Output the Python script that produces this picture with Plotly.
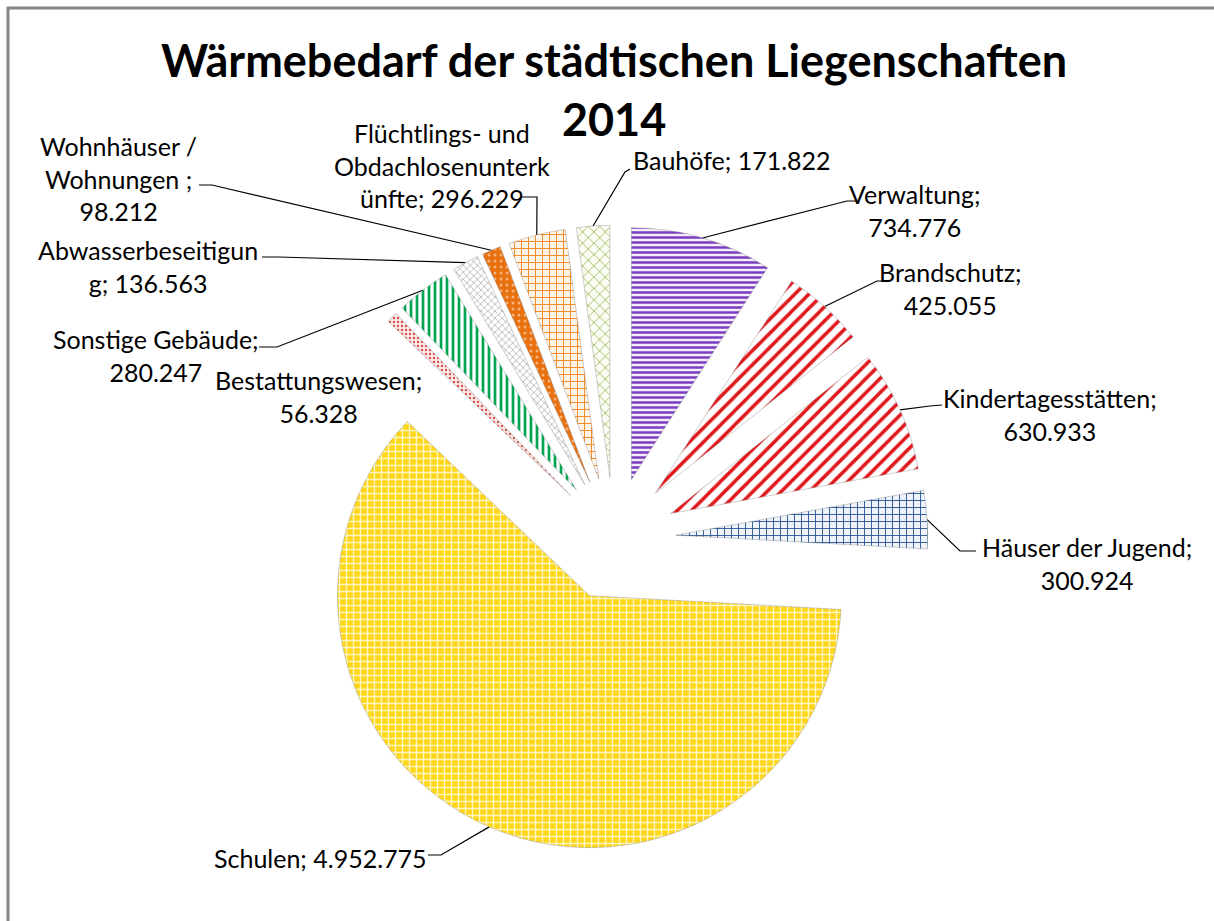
import math
import plotly.graph_objects as go

# ---------------- data ----------------
categories = [
    "Verwaltung", "Brandschutz", "Kindertagesstätten", "Häuser der Jugend", "Schulen",
    "Bestattungswesen", "Sonstige Gebäude", "Abwasserbeseitigung", "Wohnhäuser / Wohnungen ",
    "Flüchtlings- und Obdachlosenunterkünfte", "Bauhöfe",
]
values = [734776, 425055, 630933, 300924, 4952775, 56328, 280247, 136563, 98212, 296229, 171822]
# label text as wrapped in the original ({v} = formatted value)
label_templates = [
    "Verwaltung;<br>{v}",
    "Brandschutz;<br>{v}",
    "Kindertagesstätten;<br>{v}",
    "Häuser der Jugend;<br>{v}",
    "Schulen; {v}",
    "Bestattungswesen;<br>{v}",
    "Sonstige Gebäude;<br>{v}",
    "Abwasserbeseitigun<br>g; {v}",
    "Wohnhäuser /<br>Wohnungen ;<br>{v}",
    "Flüchtlings- und<br>Obdachlosenunterk<br>ünfte; {v}",
    "Bauhöfe; {v}",
]
title_text = "Wärmebedarf der städtischen Liegenschaften<br>2014"

# ---------------- style ----------------
W, H = 1214, 921
FONT = "Lato, Carlito, Calibri, sans-serif"
CX, CY = 614, 539        # pie centre (px)
R = 252                  # pie radius (px)
PULL = 0.245             # explode fraction of radius

patterns = [
    dict(shape="-", fgcolor="#7A3DBE", bgcolor="#F4EDFB", size=5, solidity=0.5),
    dict(shape="/", fgcolor="#E0191E", bgcolor="#FFFFFF", size=10, solidity=0.35),
    dict(shape="/", fgcolor="#E0191E", bgcolor="#FFFFFF", size=10, solidity=0.35),
    dict(shape="+", fgcolor="#2E5A94", bgcolor="#EEF3FA", size=7, solidity=0.25),
    dict(shape="+", fgcolor="#FFF7C2", bgcolor="#FFD619", size=7, solidity=0.35),
    dict(shape=".", fgcolor="#D9534F", bgcolor="#FCEDED", size=4, solidity=0.3),
    dict(shape="|", fgcolor="#00A551", bgcolor="#FFFFFF", size=6, solidity=0.45),
    dict(shape="x", fgcolor="#B5B5B5", bgcolor="#FFFFFF", size=5, solidity=0.3),
    dict(shape=".", fgcolor="#F9B27A", bgcolor="#E8700E", size=6, solidity=0.2),
    dict(shape="+", fgcolor="#F0861E", bgcolor="#FFF4E8", size=7, solidity=0.25),
    dict(shape="x", fgcolor="#9BBB59", bgcolor="#FBFDF4", size=8, solidity=0.2),
]

# text block centres (px) and leader-line start/elbow (px)
label_center = [(915, 210), (950, 288), (1050, 414), (1087, 563), (320, 858),
                (318, 396), (156, 355), (148, 266), (118, 178), (442, 165), (732, 160)]
leader_start = [(856, 201), (886, 281), (942, 405), (976, 551), (428, 855),
                None, (259, 347), (262, 257), (199, 185), (522, 197), (630, 169)]
leader_elbow = [(847, 201), (877, 281), (930, 406), (960, 551), (441, 855),
                None, (277, 347), (279, 257), (212, 185), (537, 197), (625, 172)]

# ---------------- figure ----------------
half = R * (1 + PULL)
domain_x = [(CX - half) / W, (CX + half) / W]
domain_y = [1 - (CY + half) / H, 1 - (CY - half) / H]

fig = go.Figure()
fig.add_trace(go.Pie(
    labels=categories, values=values, sort=False, direction="clockwise", rotation=0,
    pull=[PULL] * len(values), textinfo="none", hoverinfo="label+value",
    marker=dict(colors=[p["bgcolor"] for p in patterns],
                line=dict(color="rgba(140,140,140,0.7)", width=0.6),
                pattern=dict(shape=[p["shape"] for p in patterns],
                             fgcolor=[p["fgcolor"] for p in patterns],
                             bgcolor=[p["bgcolor"] for p in patterns],
                             size=[p["size"] for p in patterns],
                             solidity=[p["solidity"] for p in patterns])),
    domain=dict(x=domain_x, y=domain_y), showlegend=False,
))

total = sum(values)
cum = 0.0
annotations = []
for i, v in enumerate(values):
    frac = v / total
    mid = 2 * math.pi * (cum + frac / 2)
    cum += frac
    dx, dy = math.sin(mid), -math.cos(mid)
    # outer arc midpoint of the pulled slice
    px = CX + (R * PULL + R) * dx
    py = CY + (R * PULL + R) * dy
    vtxt = f"{v:,}".replace(",", ".")
    lx, ly = label_center[i]
    annotations.append(dict(x=lx, y=ly, xref="x", yref="y", text=label_templates[i].format(v=vtxt),
                            showarrow=False, align="center", xanchor="center", yanchor="middle",
                            font=dict(family=FONT, size=25, color="#000000")))
    if leader_start[i] is not None:
        sx, sy = leader_start[i]
        ex, ey = leader_elbow[i]
        fig.add_trace(go.Scatter(x=[sx, ex, px], y=[sy, ey, py], mode="lines",
                                 line=dict(color="#000000", width=1.2),
                                 hoverinfo="skip", showlegend=False))

annotations.append(dict(x=614, y=89, xref="x", yref="y", text="<b>" + title_text + "</b>",
                        showarrow=False, align="center", xanchor="center", yanchor="middle",
                        font=dict(family=FONT, size=45, color="#000000")))

fig.update_layout(
    width=W, height=H, margin=dict(l=0, r=0, t=0, b=0),
    paper_bgcolor="#FFFFFF", plot_bgcolor="rgba(0,0,0,0)",
    xaxis=dict(range=[0, W], visible=False, fixedrange=True),
    yaxis=dict(range=[H, 0], visible=False, fixedrange=True),
    annotations=annotations,
    shapes=[dict(type="rect", xref="x", yref="y", x0=8, y0=8, x1=W + 20, y1=H + 20,
                 line=dict(color="#868686", width=3), layer="above")],
)

fig.write_html("out.html", config={"displayModeBar": False},
               post_script="document.body.style.margin='0';document.body.style.overflow='hidden';")
